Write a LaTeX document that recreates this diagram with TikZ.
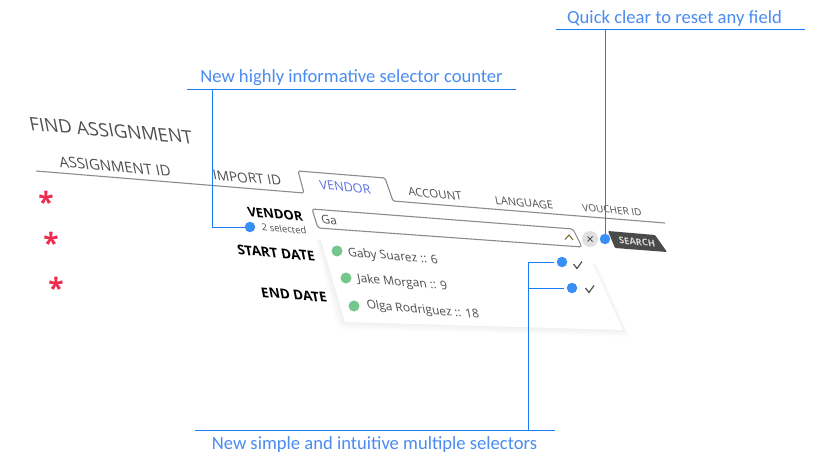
\documentclass[tikz,border=0pt]{standalone}
\usepackage{fontspec}
\setmainfont{Open Sans}
\newfontfamily\handfont{Carlito}
\definecolor{callblue}{HTML}{1A7DF8}
\definecolor{dotblue}{HTML}{3A8FF7}
\definecolor{textblue}{HTML}{4A8CF2}
\definecolor{uigray}{HTML}{4F4F4F}
\definecolor{tabline}{HTML}{8C8C8C}
\definecolor{okgreen}{HTML}{74C78C}
\definecolor{starred}{HTML}{EE2B4E}
\definecolor{tabblue}{HTML}{5B70E0}
\definecolor{btn}{HTML}{4A4A4A}
\tikzset{
  skewed/.style={cm={1,-0.085,-0.2,1,(0,0)}},
  uitext/.style={skewed,inner sep=0pt,text=uigray,font=\fontsize{#1}{#1}\selectfont},
  uibold/.style={skewed,inner sep=0pt,text=black,font=\fontsize{#1}{#1}\selectfont\bfseries},
  calltext/.style={inner sep=0pt,text=textblue,font=\fontsize{18.6}{18.6}\selectfont\handfont},
  callline/.style={draw=callblue,line width=1pt},
  bluedot/.style={circle,fill=dotblue,minimum size=10.5pt,inner sep=0pt},
  greendot/.style={circle,fill=okgreen,minimum size=11pt,inner sep=0pt},
  star/.style={inner sep=0pt,text=starred,font=\fontsize{28}{28}\selectfont\bfseries},
  uiline/.style={draw=tabline,line width=1.1pt,line join=round},
  checkmark/.style={draw=uigray,line width=1.2pt}
}
\begin{document}
\begin{tikzpicture}[x=1pt,y=-1pt]
\useasboundingbox[fill=white] (0,0) rectangle (825,468);

% tab line and active tab
\draw[uiline,rounded corners=1.5pt] (36,171) -- (304,193) -- (298,171) -- (385,178) -- (393,201) -- (665,223);

% dropdown with soft shadow
\foreach \g in {7,5.5,4,2.5,1}{
  \fill[black,opacity=.012,rounded corners=2pt,line join=round]
    (320-\g*.7,239) -- (592+\g*.7,264) -- (623+\g,330+\g) -- (345-\g,322+\g) -- cycle;
}
\fill[white] (320,237) -- (592,262) -- (623,330) -- (345,322) -- cycle;

% input
\draw[uiline,fill=white,rounded corners=2.5pt] (312,209) -- (573,229) -- (582,247) -- (318,228) -- cycle;

% titles and tabs
\node[uitext=18.5] (title) at (111,130.5) {FIND ASSIGNMENT};
\node[uitext=14.8] (tabassign) at (115,166.5) {ASSIGNMENT ID};
\node[uitext=13.6] (tabimport) at (247,178) {IMPORT ID};
\node[uitext=12.6,text=tabblue] (tabvendor) at (345,187) {VENDOR};
\node[uitext=11.5] (tabaccount) at (435,194) {ACCOUNT};
\node[uitext=11] (tablanguage) at (524,203) {LANGUAGE};
\node[uitext=10] (tabvoucher) at (612,210) {VOUCHER ID};

% form labels
\node[uibold=13] (lblvendor) at (275,214) {VENDOR};
\node[uitext=9.5] (lblcount) at (284,229) {2 selected};
\node[uibold=13.5] (lblstart) at (276,253) {START DATE};
\node[uibold=13.5] (lblend) at (294,295) {END DATE};
\node[uitext=12] (inputval) at (329,220) {Ga};

% red stars
\node[star] (star1) at (46,202) {*};
\node[star] (star2) at (51,243) {*};
\node[star] (star3) at (56,288) {*};

% dropdown rows
\node[greendot] (g1) at (337,251) {};
\node[greendot] (g2) at (346,278) {};
\node[greendot] (g3) at (354,306) {};
\node[uitext=12] (row1) at (393,257) {Gaby Suarez :: 6};
\node[uitext=12] (row2) at (402.5,283) {Jake Morgan :: 9};
\node[uitext=12] (row3) at (423,310.5) {Olga Rodriguez :: 18};

% checks
\coordinate (c1) at (578,265);
\coordinate (c2) at (590,289);
\draw[checkmark] ([shift={(-4.5,-1)}]c1) -- ([shift={(-1,3.5)}]c1) -- ([shift={(4,-3.5)}]c1);
\draw[checkmark] ([shift={(-4.5,-1)}]c2) -- ([shift={(-1,3.5)}]c2) -- ([shift={(4,-3.5)}]c2);

% caret
\coordinate (caret) at (569,237);
\draw[draw=olive!70!black,line width=1pt] ([shift={(-4,2.5)}]caret) -- ([shift={(0,-2)}]caret) -- ([shift={(4,3)}]caret);

% clear button
\node[circle,fill=black!12,minimum size=16pt,inner sep=0pt] (clear) at (590,239) {};
\draw[uigray,line width=.9pt] ([shift={(-2.5,-2.5)}]clear.center) -- ([shift={(2.5,2.5)}]clear.center);
\draw[uigray,line width=.9pt] ([shift={(2.5,-2.5)}]clear.center) -- ([shift={(-2.5,2.5)}]clear.center);

% search button
\fill[btn,rounded corners=1pt] (608,231) -- (655,235) -- (667,252) -- (615,248) -- cycle;
\node[uibold=9.3,text=white!85!black] (searchlbl) at (637,242) {SEARCH};

% call-out labels
\node[calltext] (lblquick) at (674.5,19) {Quick clear to reset any field};
\node[calltext] (lblcounter) at (351.5,78) {New highly informative selector counter};
\node[calltext] (lblmulti) at (374.5,445) {New simple and intuitive multiple selectors};

% call-out bars
\coordinate (quickL) at (556,30);
\coordinate (quickR) at (805,30);
\coordinate (counterL) at (187,90);
\coordinate (counterR) at (516,90);
\coordinate (multiL) at (195,430);
\coordinate (multiR) at (555,430);
\draw[callline] (quickL) -- (quickR);
\draw[callline] (counterL) -- (counterR);
\draw[callline] (multiL) -- (multiR);

% blue dots
\node[bluedot] (dcount) at (250,227) {};
\node[bluedot] (dclear) at (605,239) {};
\node[bluedot] (dsel1) at (562,262) {};
\node[bluedot] (dsel2) at (572,288) {};

% connectors
\coordinate (kneecount) at (212,227);
\coordinate (topcount) at (212,90);
\coordinate (topclear) at (605,30);
\coordinate (bottommulti) at (528,430);
\draw[callline] (topclear) -- (dclear);
\draw[callline] (topcount) -- (kneecount) -- (dcount);
\draw[callline] (bottommulti) -- (bottommulti |- dsel1) -- ([xshift=-3pt]dsel1.west);
\draw[callline] (bottommulti |- dsel2) -- ([xshift=-3pt]dsel2.west);
\end{tikzpicture}
\end{document}
